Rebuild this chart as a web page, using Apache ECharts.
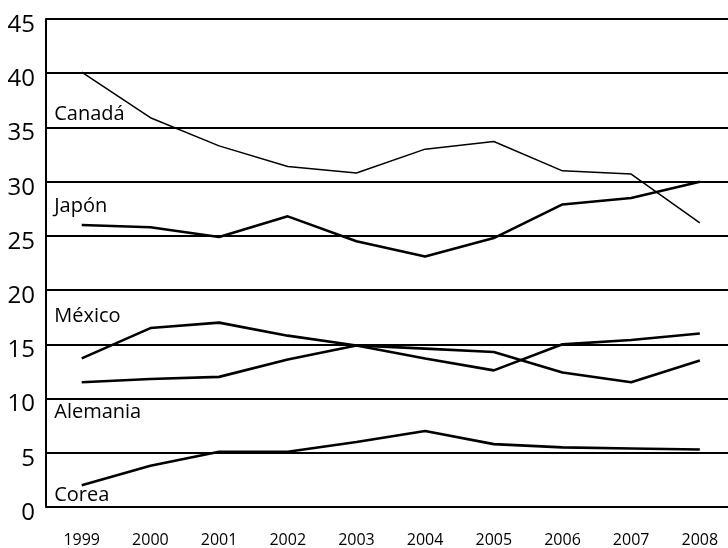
<!DOCTYPE html>
<html>
<head>
<meta charset="UTF-8">
<title>Participación</title>
<script src="https://cdn.jsdelivr.net/npm/echarts@6/dist/echarts.min.js"></script>
<style>
body { margin: 0; padding: 0; background: #fff; }
#main { width: 728px; height: 548px; }
</style>
</head>
<body>
<div id="main"></div>
<script>
// datos
var years = [1999, 2000, 2001, 2002, 2003, 2004, 2005, 2006, 2007, 2008];
var canada   = [40.1, 35.9, 33.3, 31.4, 30.8, 33.0, 33.7, 31.0, 30.7, 26.2];
var japon    = [26.0, 25.8, 24.9, 26.8, 24.5, 23.1, 24.8, 27.9, 28.5, 30.0];
var mexico   = [13.7, 16.5, 17.0, 15.8, 14.9, 13.7, 12.6, 15.0, 15.4, 16.0];
var alemania = [11.5, 11.8, 12.0, 13.6, 14.9, 14.6, 14.3, 12.4, 11.5, 13.5];
var corea    = [2.0, 3.8, 5.1, 5.1, 6.0, 7.0, 5.8, 5.5, 5.4, 5.3];
var yTicks = [0, 5, 10, 15, 20, 25, 30, 35, 40, 45];
// nombre del pais y altura (en unidades del eje) de su rotulo
var names = ['Canadá', 'Japón', 'México', 'Alemania', 'Corea'];
var nameY = [36.2, 27.7, 17.6, 8.7, 1.1];

var chart = echarts.init(document.getElementById('main'));

function pts(arr) {
	var out = [];
	for (var i = 0; i < years.length; i++) out.push([years[i], arr[i]]);
	return out;
}

var allData = [canada, japon, mexico, alemania, corea];
var series = [];
for (var s = 0; s < allData.length; s++) {
	series.push({
		name: names[s],
		type: 'line',
		data: pts(allData[s]),
		symbol: 'none',
		silent: true,
		lineStyle: { color: '#000', width: s == 0 ? 1.5 : 2.6 },
		markPoint: {
			symbol: 'circle',
			symbolSize: 0,
			silent: true,
			label: {
				show: true,
				position: 'right',
				distance: 0,
				formatter: names[s],
				color: '#000',
				fontFamily: 'Open Sans',
				fontSize: 20
			},
			data: [{ coord: [1998.6, nameY[s]] }]
		}
	});
}

var option = {
	animation: false,
	grid: { left: 46, right: 0, top: 19, bottom: 40 },
	xAxis: {
		type: 'value',
		min: 1998.48,
		max: 2008.41,
		splitLine: { show: false },
		axisLine: { show: false },
		axisTick: { show: false },
		axisLabel: {
			customValues: years,
			formatter: function (v) { return String(v); },
			color: '#000',
			fontFamily: 'Open Sans',
			fontSize: 16,
			margin: 25
		}
	},
	yAxis: {
		type: 'value',
		min: 0,
		max: 45,
		interval: 5,
		axisLine: { show: true, lineStyle: { color: '#000', width: 2 } },
		axisTick: { show: false },
		splitLine: { lineStyle: { color: '#000', width: 2 } },
		axisLabel: {
			customValues: yTicks,
			color: '#000',
			fontFamily: 'Open Sans',
			fontSize: 24,
			margin: 11,
			verticalAlign: 'top',
			lineHeight: 12
		}
	},
	series: series
};
chart.setOption(option);
</script>
</body>
</html>
